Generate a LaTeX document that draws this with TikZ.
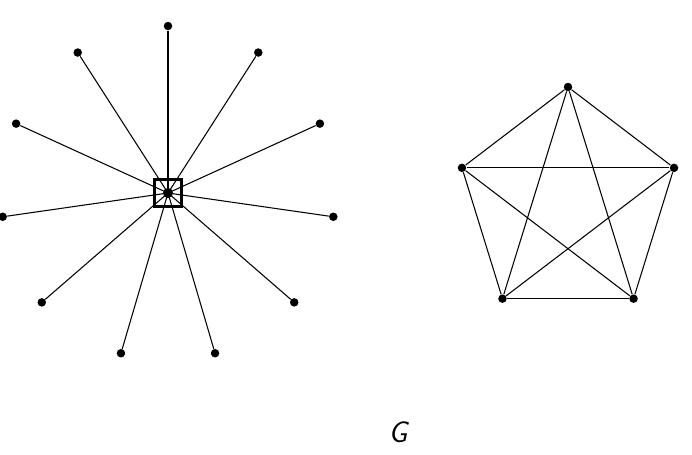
\documentclass[tikz,border=0pt]{standalone}
\usetikzlibrary{positioning,calc}

\begin{document}
\begin{tikzpicture}[
  vert/.style={circle, fill=black, minimum size=0.17cm, inner sep=0pt},
  hubbox/.style={rectangle, draw=black, line width=1.3pt, minimum size=0.54cm, inner sep=0pt},
  edge/.style={line width=0.6pt}
]
  \useasboundingbox (0,0) rectangle (13.84,-9.08);
  % star
  \coordinate (c) at (3.36,-3.86);
  \foreach \k in {0,...,10}
    \node[vert] (s\k) at ($(c)+({90+\k*360/11}:3.34)$) {};
  \foreach \k in {0,...,10}
    \draw[edge] (s\k) -- (c);
  \node[vert, minimum size=0.2cm] (hub) at (c) {};
  \node[hubbox] (box) at (c) {};
  % complete graph on five vertices
  \coordinate (p) at (11.36,-4.08);
  \foreach \k in {0,...,4}
    \node[vert] (k\k) at ($(p)+({90+\k*72}:2.23 and 2.34)$) {};
  \foreach \i in {0,...,3} {
    \pgfmathtruncatemacro\nxt{\i+1}
    \foreach \j in {\nxt,...,4}
      \draw[edge] (k\i) -- (k\j);
  }
  % label
  \node[font=\fontsize{17}{20}\selectfont\sffamily\itshape] (lbl) at (7.96,-8.64) {G};
\end{tikzpicture}
\end{document}
